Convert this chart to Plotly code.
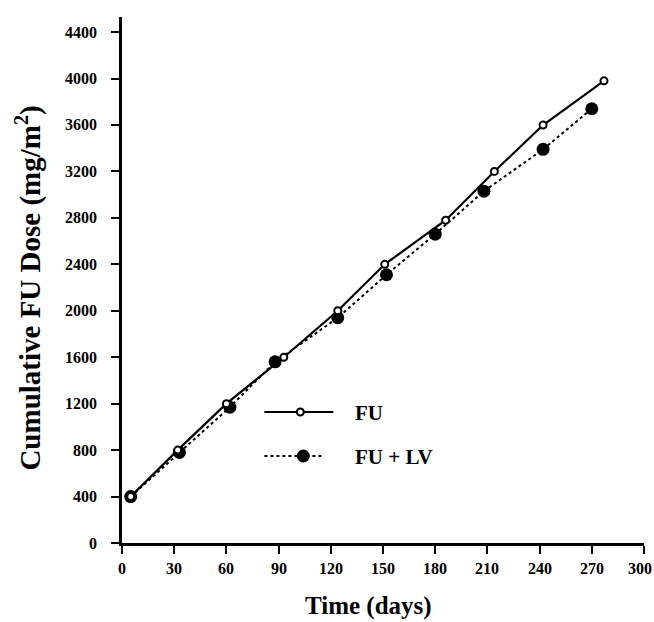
import plotly.graph_objects as go

fu_days = [5, 32, 60, 93, 124, 151, 186, 214, 242, 277]
fu_dose = [400, 800, 1200, 1600, 2000, 2400, 2780, 3200, 3600, 3980]
fulv_days = [5, 33, 62, 88, 124, 152, 180, 208, 242, 270]
fulv_dose = [400, 780, 1170, 1560, 1940, 2310, 2660, 3030, 3390, 3740]
x_ticks = list(range(0, 301, 30))
y_ticks = list(range(0, 4401, 400))

FONT = "Liberation Serif"

fig = go.Figure()
fig.add_trace(go.Scatter(
    x=fulv_days, y=fulv_dose, mode="lines+markers", name="FU + LV",
    line=dict(color="black", width=2, dash="dot"),
    marker=dict(symbol="circle", size=13, color="black"),
))
fig.add_trace(go.Scatter(
    x=fu_days, y=fu_dose, mode="lines+markers", name="FU",
    line=dict(color="black", width=2.2),
    marker=dict(symbol="circle", size=7, color="white", line=dict(color="black", width=2)),
))

# plot area in screen pixels (body margin removed below)
SL, SR, ST, SB = 121.5, 644.0, 17.0, 543.0
W, H = 654, 622
margin = dict(l=SL, r=W - SR, t=ST, b=H - SB)

def px(x):
    return (x - SL) / (SR - SL)

def py(y):
    return (SB - y) / (SB - ST)

shapes = []
annotations = []
tick_font = dict(family=FONT, size=16, color="black")
# tick labels
for v in y_ticks:
    annotations.append(dict(text=f"<b>{v}</b>", xref="paper", yref="y", x=px(98), y=v,
                            xanchor="right", yanchor="middle", showarrow=False, font=tick_font))
for v in x_ticks:
    annotations.append(dict(text=f"<b>{v}</b>", xref="x", yref="paper", x=v, y=py(568.5),
                            xanchor="center", yanchor="middle", showarrow=False, font=tick_font,
                            xshift=-4 if v == x_ticks[-1] else 0))
# legend FU
shapes.append(dict(type="line", xref="paper", yref="paper", x0=px(264), x1=px(333), y0=py(412), y1=py(412),
                   line=dict(color="black", width=2)))
shapes.append(dict(type="circle", xref="paper", yref="paper", x0=px(296.5), x1=px(303.5), y0=py(415.5), y1=py(408.5),
                   line=dict(color="black", width=2), fillcolor="white"))
annotations.append(dict(text="<b>FU</b>", xref="paper", yref="paper", x=px(353), y=py(413), xanchor="left",
                        yanchor="middle", showarrow=False, font=dict(family=FONT, size=21, color="black")))
# legend FU + LV
shapes.append(dict(type="line", xref="paper", yref="paper", x0=px(264), x1=px(323), y0=py(456), y1=py(456),
                   line=dict(color="black", width=2, dash="dot")))
shapes.append(dict(type="circle", xref="paper", yref="paper", x0=px(296.5), x1=px(309.5), y0=py(462.5), y1=py(449.5),
                   line=dict(color="black", width=0), fillcolor="black"))
annotations.append(dict(text="<b>FU + LV</b>", xref="paper", yref="paper", x=px(353), y=py(457), xanchor="left",
                        yanchor="middle", showarrow=False, font=dict(family=FONT, size=21, color="black")))
# axis titles
annotations.append(dict(text="<b>Time (days)</b>", xref="paper", yref="paper", x=px(368.5), y=py(606),
                        xanchor="center", yanchor="middle", showarrow=False,
                        font=dict(family=FONT, size=25, color="black")))
annotations.append(dict(text="<b>Cumulative FU Dose (mg/m<sup>2</sup>)</b>", xref="paper", yref="paper",
                        x=px(27), y=py(288), xanchor="center", yanchor="middle", textangle=-90, showarrow=False,
                        font=dict(family=FONT, size=29, color="black")))

fig.update_layout(
    width=W, height=H,
    margin=margin,
    paper_bgcolor="white", plot_bgcolor="white",
    showlegend=False,
    shapes=shapes, annotations=annotations,
    font=dict(family=FONT, color="black"),
)
fig.update_xaxes(
    range=[0, 300], tickvals=x_ticks, showticklabels=False,
    showgrid=False, zeroline=False, showline=True, linecolor="black", linewidth=2.5,
    ticks="outside", ticklen=8, tickwidth=2, tickcolor="black", automargin=False,
)
fig.update_yaxes(
    range=[0, 4530], tickvals=y_ticks, showticklabels=False,
    showgrid=False, zeroline=False, showline=True, linecolor="black", linewidth=2.5,
    ticks="outside", ticklen=8, tickwidth=2, tickcolor="black", automargin=False,
)

fig.write_html(
    "out.html",
    config={"displayModeBar": False},
    post_script="document.body.style.margin='0';document.body.style.overflow='hidden';",
)
